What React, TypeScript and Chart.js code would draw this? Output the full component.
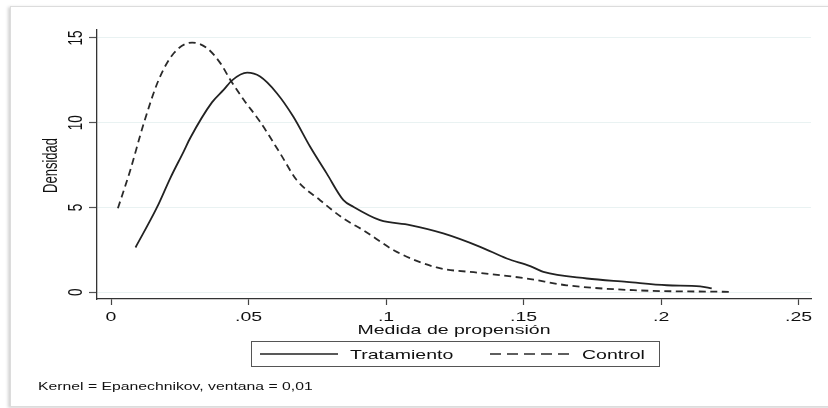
import React, { useEffect, useRef } from "react";
import { Chart, registerables } from "chart.js";

Chart.register(...registerables);

// ---- Data ----
const controlX = [0.0025, 0.007, 0.0119, 0.0173, 0.0228, 0.0295, 0.0349, 0.0398, 0.0434, 0.0483, 0.054, 0.0615, 0.0675, 0.076, 0.0845, 0.0917, 0.1039, 0.1184, 0.1342, 0.1512, 0.1657, 0.19, 0.225];
const controlY = [4.95, 7.2, 9.96, 12.52, 14.1, 14.73, 14.4, 13.5, 12.52, 11.34, 10.1, 8.19, 6.62, 5.43, 4.35, 3.66, 2.38, 1.46, 1.14, 0.81, 0.41, 0.12, 0.02];

const tratX = [0.0089, 0.0167, 0.0216, 0.0264, 0.0288, 0.0367, 0.041, 0.044, 0.0495, 0.0542, 0.0603, 0.0663, 0.0724, 0.0784, 0.0845, 0.0881, 0.0978, 0.1087, 0.1208, 0.1342, 0.1439, 0.1524, 0.1572, 0.173, 0.1875, 0.2021, 0.2142, 0.2184];
const tratY = [2.64, 5.0, 6.75, 8.3, 9.1, 11.2, 11.95, 12.5, 12.95, 12.72, 11.74, 10.35, 8.58, 7.01, 5.43, 5.04, 4.25, 3.96, 3.47, 2.68, 1.99, 1.54, 1.2, 0.81, 0.61, 0.41, 0.35, 0.22];

const xTicks = [0, 0.05, 0.1, 0.15, 0.2, 0.25];
const xTickLabels = ["0", ".05", ".1", ".15", ".2", ".25"];
const yTicks = [0, 5, 10, 15];
const yTickLabels = ["0", "5", "10", "15"];

const seriesNames = ["Tratamiento", "Control"];
const xTitle = "Medida de propensión";
const yTitle = "Densidad";
const noteText = "Kernel = Epanechnikov, ventana = 0,01";

const FONT = '"Liberation Sans", Arial, sans-serif';
const S = 1.5; // horizontal stretch of the original's text
const TEXT = "#111111";

function drawText(
  ctx: CanvasRenderingContext2D,
  text: string,
  x: number,
  y: number,
  size: number,
  align: CanvasTextAlign,
  rotated = false
) {
  ctx.save();
  ctx.translate(x, y);
  ctx.scale(S, 1);
  if (rotated) ctx.rotate(-Math.PI / 2);
  ctx.font = `${size}px ${FONT}`;
  ctx.fillStyle = TEXT;
  ctx.textAlign = align;
  ctx.textBaseline = "alphabetic";
  ctx.fillText(text, 0, 0);
  ctx.restore();
}

const textPlugin = {
  id: "stataText",
  afterDraw(chart: any) {
    const ctx: CanvasRenderingContext2D = chart.ctx;
    const xs = chart.scales.x;
    const ys = chart.scales.y;
    const area = chart.chartArea;

    // x tick labels
    xTicks.forEach((v, i) => {
      drawText(ctx, xTickLabels[i], xs.getPixelForValue(v), 320.5, 13, "center");
    });
    // x title
    drawText(ctx, xTitle, (area.left + area.right) / 2, 333.5, 13, "center");

    // y tick labels (rotated)
    yTicks.forEach((v, i) => {
      drawText(ctx, yTickLabels[i], 81.5, ys.getPixelForValue(v), 13.5, "center", true);
    });
    // y title
    drawText(ctx, yTitle, 57, (area.top + area.bottom) / 2 + 1, 13, "center", true);

    // legend box
    ctx.save();
    ctx.strokeStyle = "#555";
    ctx.lineWidth = 1;
    ctx.strokeRect(251.5, 341.5, 408, 25);
    const ds = chart.data.datasets;
    const items = [
      { x0: 260, x1: 338, tx: 350, dash: [] as number[] },
      { x0: 490, x1: 571, tx: 582, dash: [11, 6] },
    ];
    items.forEach((it, i) => {
      ctx.save();
      ctx.strokeStyle = ds[i].borderColor;
      ctx.lineWidth = 1.4;
      ctx.setLineDash(it.dash);
      ctx.beginPath();
      ctx.moveTo(it.x0, 354);
      ctx.lineTo(it.x1, 354);
      ctx.stroke();
      ctx.restore();
      drawText(ctx, ds[i].label, it.tx, 359, 13, "left");
    });
    ctx.restore();

    // note
    drawText(ctx, noteText, 38, 390, 10.5, "left");
  },
};

export default function App() {
  const ref = useRef<HTMLCanvasElement | null>(null);

  useEffect(() => {
    if (!ref.current) return;
    const chart = new Chart(ref.current, {
      type: "scatter",
      data: {
        datasets: [
          {
            label: seriesNames[0],
            data: tratX.map((x, i) => ({ x, y: tratY[i] })),
            showLine: true,
            borderColor: "#222222",
            borderWidth: 1.8,
            pointRadius: 0,
            cubicInterpolationMode: "monotone",
          },
          {
            label: seriesNames[1],
            data: controlX.map((x, i) => ({ x, y: controlY[i] })),
            showLine: true,
            borderColor: "#2a2a2a",
            borderWidth: 1.8,
            borderDash: [7, 4.5],
            pointRadius: 0,
            cubicInterpolationMode: "monotone",
          },
        ],
      } as any,
      plugins: [textPlugin],
      options: {
        animation: false,
        responsive: false,
        devicePixelRatio: 1,
        layout: { padding: { left: 0, right: 17, top: 30, bottom: 0 } },
        plugins: { legend: { display: false }, tooltip: { enabled: false } },
        scales: {
          x: {
            type: "linear",
            min: -0.0051,
            max: 0.2545,
            afterBuildTicks: (s: any) => {
              s.ticks = xTicks.map((v) => ({ value: v }));
            },
            afterFit: (s: any) => {
              s.height = 109;
            },
            ticks: { display: false },
            grid: { drawOnChartArea: false, drawTicks: true, tickLength: 6, tickColor: "#444", tickWidth: 1.2 },
            border: { color: "#333", width: 1.3 },
          },
          y: {
            type: "linear",
            min: -0.4,
            max: 15.47,
            afterBuildTicks: (s: any) => {
              s.ticks = yTicks.map((v) => ({ value: v }));
            },
            afterFit: (s: any) => {
              s.width = 97;
            },
            ticks: { display: false },
            grid: { color: "#e9f2f2", lineWidth: 1, drawTicks: true, tickLength: 8, tickColor: "#555", tickWidth: 1.2 },
            border: { color: "#333", width: 1.3 },
          },
        },
      } as any,
    });
    return () => chart.destroy();
  }, []);

  return (
    <div style={{ position: "fixed", left: 0, top: 0, width: 828, height: 408, background: "#fff", overflow: "hidden" }}>
      <div
        style={{
          position: "absolute",
          left: 10,
          top: 6,
          width: 840,
          height: 399,
          border: "1px solid #dcdcdc",
          boxShadow: "-2px 1px 3px rgba(0,0,0,0.18)",
          background: "#fff",
        }}
      />
      <canvas ref={ref} width={828} height={408} style={{ position: "absolute", left: 0, top: 0, width: 828, height: 408 }} />
    </div>
  );
}
